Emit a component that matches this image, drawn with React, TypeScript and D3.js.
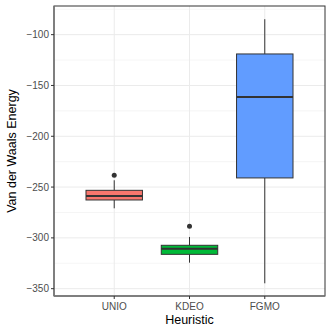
import React from "react";
import * as d3 from "d3";

const categories = ["UNIO", "KDEO", "FGMO"];
const colors = ["#F8766D", "#00BA38", "#619CFF"];
const whiskerLow = [-270.9, -324.4, -344.7];
const q1 = [-262.7, -316.2, -241];
const medians = [-258.8, -310.6, -161.3];
const q3 = [-253.2, -307.3, -119];
const whiskerHigh = [-243.3, -299.1, -84.8];
const outliers = [[-238.4], [-288.6], []];
const yTicks = [-100, -150, -200, -250, -300, -350];
const yMinor = [-75, -125, -175, -225, -275, -325];

export default function App() {
  const W = 332, H = 332;
  const left = 54, right = 325, top = 6, bottom = 296;
  const y = d3.scaleLinear().domain([-357.2, -71.8]).range([bottom, top]);
  const band = d3.scaleBand().domain(categories).range([left, right]).paddingOuter(0.3).paddingInner(0);
  const cx = (c: string) => (band(c) as number) + band.bandwidth() / 2;
  const bw = band.bandwidth() * 0.75;
  const font = "Liberation Sans, Arial, sans-serif";
  return (
    <svg width={W} height={H} style={{ position: "absolute", left: 0, top: 0 }}>
      <rect x={0} y={0} width={W} height={H} fill="white" />
      {yMinor.map((t) => (
        <line key={"m" + t} x1={left} x2={right} y1={y(t)} y2={y(t)} stroke="#EBEBEB" strokeWidth={0.5} />
      ))}
      {yTicks.map((t) => (
        <line key={"g" + t} x1={left} x2={right} y1={y(t)} y2={y(t)} stroke="#EBEBEB" strokeWidth={1} />
      ))}
      {categories.map((c) => (
        <line key={"v" + c} x1={cx(c)} x2={cx(c)} y1={top} y2={bottom} stroke="#EBEBEB" strokeWidth={1} />
      ))}
      {categories.map((c, i) => {
        const x = cx(c);
        return (
          <g key={c}>
            <line x1={x} x2={x} y1={y(whiskerHigh[i])} y2={y(q3[i])} stroke="#333333" strokeWidth={1} />
            <line x1={x} x2={x} y1={y(q1[i])} y2={y(whiskerLow[i])} stroke="#333333" strokeWidth={1} />
            <rect x={x - bw / 2} y={y(q3[i])} width={bw} height={y(q1[i]) - y(q3[i])} fill={colors[i]} stroke="#333333" strokeWidth={1} />
            <line x1={x - bw / 2} x2={x + bw / 2} y1={y(medians[i])} y2={y(medians[i])} stroke="#333333" strokeWidth={2} />
            {outliers[i].map((o, j) => (
              <circle key={j} cx={x} cy={y(o)} r={2.5} fill="#333333" />
            ))}
          </g>
        );
      })}
      <rect x={left} y={top} width={right - left} height={bottom - top} fill="none" stroke="#333333" strokeWidth={1} />
      <line x1={left} x2={left} y1={top} y2={bottom} stroke="#777777" strokeWidth={1.5} />
      <line x1={left} x2={right} y1={bottom} y2={bottom} stroke="#777777" strokeWidth={1.5} />
      {yTicks.map((t) => (
        <g key={"t" + t}>
          <line x1={left - 3} x2={left} y1={y(t)} y2={y(t)} stroke="#333333" strokeWidth={1} />
          <text x={left - 5} y={y(t)} dy="0.35em" textAnchor="end" fontSize={10} fill="#4D4D4D" fontFamily={font}>
            {"\u2212" + Math.abs(t)}
          </text>
        </g>
      ))}
      {categories.map((c) => (
        <g key={"xt" + c}>
          <line x1={cx(c)} x2={cx(c)} y1={bottom} y2={bottom + 3} stroke="#333333" strokeWidth={1} />
          <text x={cx(c)} y={bottom + 14} textAnchor="middle" fontSize={10} fill="#4D4D4D" fontFamily={font}>
            {c}
          </text>
        </g>
      ))}
      <text x={(left + right) / 2} y={324} textAnchor="middle" fontSize={12.5} fill="black" fontFamily={font}>
        Heuristic
      </text>
      <text transform={`translate(16, ${(top + bottom) / 2}) rotate(-90)`} textAnchor="middle" fontSize={12.5} fill="black" fontFamily={font}>
        Van der Waals Energy
      </text>
    </svg>
  );
}
